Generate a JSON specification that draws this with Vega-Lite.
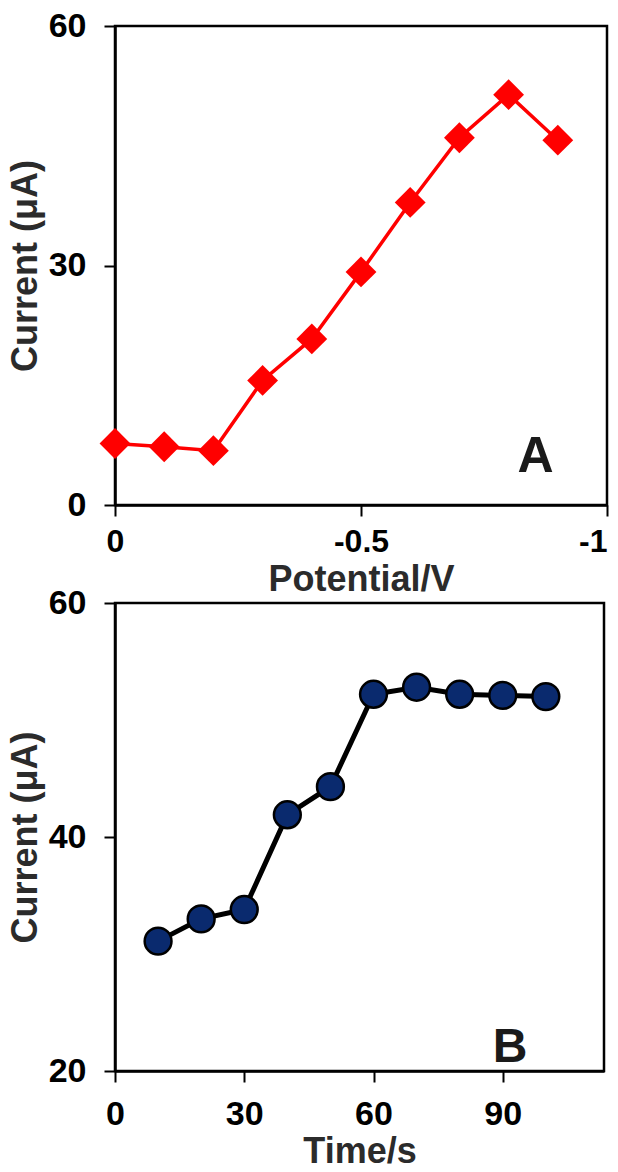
{
  "$schema": "https://vega.github.io/schema/vega-lite/v6.json",
  "background": "white",
  "padding": {"left": 5, "top": 7, "right": 0, "bottom": 0},
  "bounds": "flush",
  "spacing": 98,
  "config": {
    "font": "Liberation Sans",
    "view": {"stroke": "black", "strokeWidth": 2.5},
    "axis": {
      "grid": false,
      "domainColor": "black",
      "domainWidth": 2.5,
      "tickColor": "black",
      "tickWidth": 2,
      "tickSize": 11,
      "labelFont": "Liberation Sans",
      "labelFontWeight": "bold",
      "labelFontSize": 34,
      "labelColor": "black",
      "labelFlush": false,
      "titleFont": "Liberation Sans",
      "titleFontWeight": "bold",
      "titleFontSize": 36,
      "titleColor": "#2b2b2b"
    },
    "axisY": {"labelPadding": 18, "titlePadding": 4},
    "axisX": {"labelPadding": 10, "titlePadding": 5}
  },
  "vconcat": [
    {
      "width": 492,
      "height": 479,
      "data": {
        "values": [
          {"x": 0, "y": 7.7},
          {"x": -0.1, "y": 7.3},
          {"x": -0.2, "y": 6.8},
          {"x": -0.3, "y": 15.6},
          {"x": -0.4, "y": 20.8},
          {"x": -0.5, "y": 29.2},
          {"x": -0.6, "y": 37.9},
          {"x": -0.7, "y": 46.0},
          {"x": -0.8, "y": 51.4},
          {"x": -0.9, "y": 45.7}
        ]
      },
      "encoding": {
        "x": {
          "field": "x",
          "type": "quantitative",
          "title": "Potential/V",
          "scale": {"domain": [-1, 0], "reverse": true, "nice": false, "zero": false},
          "axis": {
            "values": [0, -0.5, -1],
            "labelFontSize": 32,
            "labelAlign": {"condition": {"test": "datum.value == -1", "value": "right"}, "value": "center"},
            "labelExpr": "datum.value == 0 ? '0' : (datum.value == -0.5 ? '-0.5' : '-1')"
          }
        },
        "y": {
          "field": "y",
          "type": "quantitative",
          "title": "Current (μA)",
          "scale": {"domain": [0, 60], "nice": false},
          "axis": {"values": [0, 30, 60]}
        }
      },
      "layer": [
        {"mark": {"type": "line", "color": "#ff0000", "strokeWidth": 3.5}},
        {"mark": {"type": "point", "shape": "diamond", "filled": true, "color": "#ff0000", "size": 950, "opacity": 1}},
        {
          "data": {"values": [{"x": -0.855, "y": 4.1, "label": "A"}]},
          "mark": {"type": "text", "fontSize": 50, "fontWeight": "bold", "align": "center", "baseline": "alphabetic", "color": "#1a1a1a"},
          "encoding": {"text": {"field": "label"}}
        }
      ]
    },
    {
      "width": 489,
      "height": 468,
      "data": {
        "values": [
          {"x": 10, "y": 31.1},
          {"x": 20, "y": 33.0},
          {"x": 30, "y": 33.8},
          {"x": 40, "y": 41.9},
          {"x": 50, "y": 44.3},
          {"x": 60, "y": 52.2},
          {"x": 70, "y": 52.8},
          {"x": 80, "y": 52.2},
          {"x": 90, "y": 52.1},
          {"x": 100, "y": 52.0}
        ]
      },
      "encoding": {
        "x": {
          "field": "x",
          "type": "quantitative",
          "title": "Time/s",
          "scale": {"domain": [0, 113.5], "nice": false},
          "axis": {"values": [0, 30, 60, 90], "labelFontSize": 34, "labelPadding": 15, "titlePadding": 3}
        },
        "y": {
          "field": "y",
          "type": "quantitative",
          "title": "Current (μA)",
          "scale": {"domain": [20, 60], "nice": false, "zero": false},
          "axis": {"values": [20, 40, 60]}
        }
      },
      "layer": [
        {"mark": {"type": "line", "color": "black", "strokeWidth": 5}},
        {"mark": {"type": "point", "shape": "circle", "filled": true, "fill": "#0a2a6e", "stroke": "black", "strokeWidth": 2.5, "size": 720, "opacity": 1}},
        {
          "data": {"values": [{"x": 91.7, "y": 20.8, "label": "B"}]},
          "mark": {"type": "text", "fontSize": 48, "fontWeight": "bold", "align": "center", "baseline": "alphabetic", "color": "#1a1a1a"},
          "encoding": {"text": {"field": "label"}}
        }
      ]
    }
  ]
}
